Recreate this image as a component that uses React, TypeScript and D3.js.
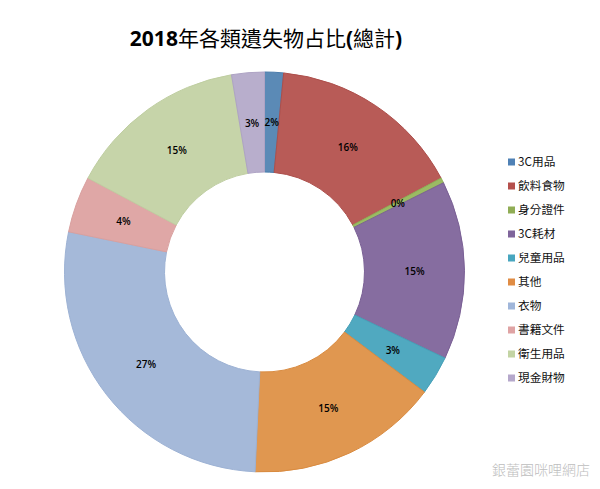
import React from 'react';
import * as d3 from 'd3';

const categories = ['3C用品', '飲料食物', '身分證件', '3C耗材', '兒童用品', '其他', '衣物', '書籍文件', '衛生用品', '現金財物'];
const shares = [1.53, 15.69, 0.42, 14.44, 3.17, 15.5, 27.47, 4.56, 14.58, 2.64];
// printed labels, the picture rounds them its own way
const labels = ['2%', '16%', '0%', '15%', '3%', '15%', '27%', '4%', '15%', '3%'];
const colors = ['#5b8ab6', '#b85b57', '#9bbb63', '#866da0', '#50a9c0', '#e09750', '#a5b9d9', '#dfa7a6', '#c6d4a9', '#b8aecc'];
const strokes = ['#4a7cab', '#ad4f4b', '#8eae55', '#7a6095', '#46a0b8', '#d98b40', '#9db2d4', '#d9a09f', '#bfcea1', '#aea3c4'];
const legendColors = ['#4f81b5', '#b5504c', '#90ad55', '#7f659b', '#48a6bf', '#e08c44', '#a0b6da', '#dfa3a4', '#c3d4a4', '#b5a8cb'];

const WIDTH = 600;
const HEIGHT = 489;
const cx = 264.5;
const cy = 272;
const fontCjk = '"Noto Sans CJK TC", "Noto Sans", sans-serif';

const App: React.FC = () => {
  const pie = d3.pie<number>().sort(null).value((d) => d);
  const arcs = pie(shares);
  const arc = d3.arc<d3.PieArcDatum<number>>().innerRadius(100).outerRadius(200);
  const labelArc = d3.arc<d3.PieArcDatum<number>>().innerRadius(150).outerRadius(150);

  const legendY = d3.scalePoint<string>().domain(categories).range([162, 378]);

  return (
    <svg
      width={WIDTH}
      height={HEIGHT}
      style={{ position: 'absolute', left: 0, top: 0, background: '#fff' }}
      fontFamily={fontCjk}
    >
      <text x={266} y={46} textAnchor="middle" fontSize={21} fill="#000">
        <tspan fontFamily="Open Sans" fontWeight={700}>2018</tspan>
        <tspan fontWeight={400}>年各類遺失物占比</tspan>
        <tspan fontFamily="Open Sans" fontWeight={700}>(</tspan>
        <tspan fontWeight={400}>總計</tspan>
        <tspan fontFamily="Open Sans" fontWeight={700}>)</tspan>
      </text>

      <g transform={`translate(${cx},${cy})`}>
        {arcs.map((d, i) => (
          <path key={categories[i]} d={arc(d) ?? ''} fill={colors[i]} stroke={strokes[i]} strokeWidth={1} />
        ))}
        {arcs.map((d, i) => {
          const [x, y] = labelArc.centroid(d);
          return (
            <text key={categories[i]} x={x} y={y + 0.5} dy="0.35em" textAnchor="middle" fontSize={10} fontWeight={600} fontFamily="Open Sans" fill="#000">
              {labels[i]}
            </text>
          );
        })}
      </g>

      {categories.map((c, i) => (
        <g key={c} transform={`translate(508,${legendY(c)})`}>
          <rect x={0} y={-3.5} width={7} height={7} fill={legendColors[i]} />
          <text x={10} y={0} dy="0.36em" fontSize={11.7} fill="#111">{c}</text>
        </g>
      ))}

      <text x={590} y={475} textAnchor="end" fontSize={14} fontWeight={300} fill="#bdbdbd">銀蕾園咪哩網店</text>
    </svg>
  );
};

export default App;
